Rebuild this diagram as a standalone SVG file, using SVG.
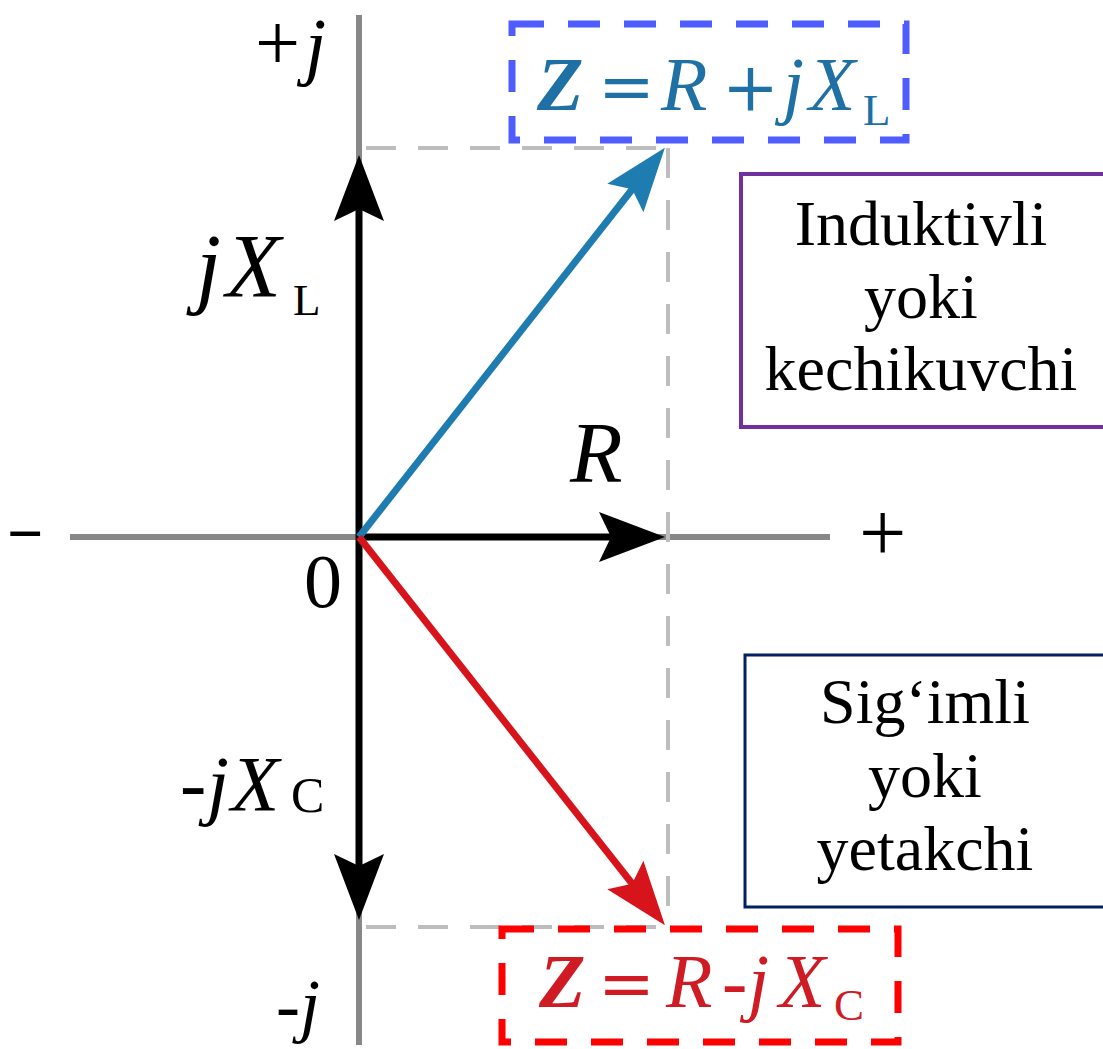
<svg xmlns="http://www.w3.org/2000/svg" width="1103" height="1049" viewBox="0 0 1103 1049">
<defs>
<style>
.axis{stroke:#888;stroke-width:6;fill:none}
.guide{stroke:#bdbdbd;stroke-width:4;stroke-dasharray:30 22;fill:none}
.vec{stroke-width:7;fill:none}
.s{font-family:"Liberation Serif","Times New Roman",serif}
.d{font-family:"DejaVu Serif",serif}
.it{font-style:italic}
.t{font-family:"Liberation Serif","Times New Roman",serif;font-size:64px;text-anchor:middle;fill:#000}
</style>
<marker id="ahK" markerUnits="userSpaceOnUse" markerWidth="10" markerHeight="10" orient="auto" overflow="visible" refX="0" refY="0"><path d="M50,0 L-16,-25 L-4,0 L-16,25 Z" fill="#000"/></marker>
<marker id="ahB" markerUnits="userSpaceOnUse" markerWidth="10" markerHeight="10" orient="auto" overflow="visible" refX="0" refY="0"><path d="M50,0 L-14,-23 L-3,0 L-14,23 Z" fill="#1f7cb0"/></marker>
<marker id="ahR" markerUnits="userSpaceOnUse" markerWidth="10" markerHeight="10" orient="auto" overflow="visible" refX="0" refY="0"><path d="M50,0 L-14,-23 L-3,0 L-14,23 Z" fill="#d7141c"/></marker>
</defs>
<rect width="1103" height="1049" fill="#fff"/>
<g id="axes">
<line class="axis" x1="359" y1="15" x2="359" y2="1045"/>
<line class="axis" x1="70" y1="537" x2="830" y2="537"/>
<text class="s" x="7" y="555" font-size="64" font-weight="bold" fill="#000">−</text>
<text class="s" x="859" y="561" font-size="84" fill="#000">+</text>
<text class="s" x="304" y="607" font-size="76" fill="#000">0</text>
<text class="s" y="70" font-size="80" fill="#000"><tspan x="255">+</tspan><tspan x="305" y="71" font-size="76" font-style="italic">j</tspan></text>
<text class="s it" x="276" y="1029" font-size="72" fill="#000">-j</text>
</g>
<g id="guides">
<line class="guide" x1="366" y1="148" x2="668" y2="148"/>
<line class="guide" x1="668" y1="148" x2="668" y2="927"/>
<line class="guide" x1="366" y1="927" x2="668" y2="927"/>
</g>
<g id="connectors">
<line class="vec" stroke="#000" x1="359" y1="537" x2="359" y2="205" marker-end="url(#ahK)"/>
<line class="vec" stroke="#000" x1="359" y1="537" x2="359" y2="870" marker-end="url(#ahK)"/>
<line class="vec" stroke="#000" x1="359" y1="537" x2="615" y2="537" marker-end="url(#ahK)"/>
<line class="vec" stroke="#1f7cb0" stroke-width="6" x1="359" y1="537" x2="634" y2="187" marker-end="url(#ahB)"/>
<line class="vec" stroke="#d7141c" stroke-width="6" x1="359" y1="537" x2="634" y2="886" marker-end="url(#ahR)"/>
</g>
<g id="label-jXL">
<text class="s" y="297" font-size="90" fill="#000"><tspan x="196" font-style="italic">j</tspan><tspan x="226" font-style="italic">X</tspan><tspan x="293" y="315" font-size="45">L</tspan></text>
</g>
<g id="label-jXC">
<text class="s" y="810" font-size="79" fill="#000"><tspan x="180" font-style="italic">-</tspan><tspan x="207" font-style="italic">j</tspan><tspan x="231" font-style="italic">X</tspan><tspan x="291" y="812" font-size="50">C</tspan></text>
</g>
<g id="label-R">
<text class="s it" x="570" y="482" font-size="86" fill="#000">R</text>
</g>
<g id="node-ZL">
<rect x="512" y="24" width="394" height="116" fill="none" stroke="#4f5cff" stroke-width="7" stroke-dasharray="32 24"/>
<text class="s" y="110" font-size="76" fill="#1f70a4"><tspan x="537" font-weight="bold" font-style="italic">Z</tspan><tspan x="598" class="d" font-size="68">=</tspan><tspan x="661" font-style="italic">R</tspan><tspan x="722" class="d" font-size="68">+</tspan><tspan x="783" font-style="italic">j</tspan><tspan x="809" font-style="italic">X</tspan><tspan x="863" y="125" font-size="45">L</tspan></text>
</g>
<g id="node-ZC">
<rect x="502" y="929" width="396" height="113" fill="none" stroke="#ff0000" stroke-width="7" stroke-dasharray="32 24"/>
<text class="s" y="1007" font-size="76" fill="#cf1c24"><tspan x="539" font-weight="bold" font-style="italic">Z</tspan><tspan x="598" class="d" font-size="68">=</tspan><tspan x="666" font-style="italic">R</tspan><tspan x="722" font-style="italic">-</tspan><tspan x="748" font-style="italic">j</tspan><tspan x="779" font-style="italic">X</tspan><tspan x="834" y="1020" font-size="45">C</tspan></text>
</g>
<g id="node-inductive">
<rect x="741" y="174" width="364" height="253" fill="#fff" stroke="#7030a0" stroke-width="4"/>
<text class="t" x="921" y="245">Induktivli</text>
<text class="t" x="921" y="318">yoki</text>
<text class="t" x="921" y="390">kechikuvchi</text>
</g>
<g id="node-capacitive">
<rect x="745" y="655" width="360" height="252" fill="#fff" stroke="#002060" stroke-width="3"/>
<text class="t" x="925" y="723">Sig‘imli</text>
<text class="t" x="925" y="797">yoki</text>
<text class="t" x="925" y="870">yetakchi</text>
</g>
</svg>
